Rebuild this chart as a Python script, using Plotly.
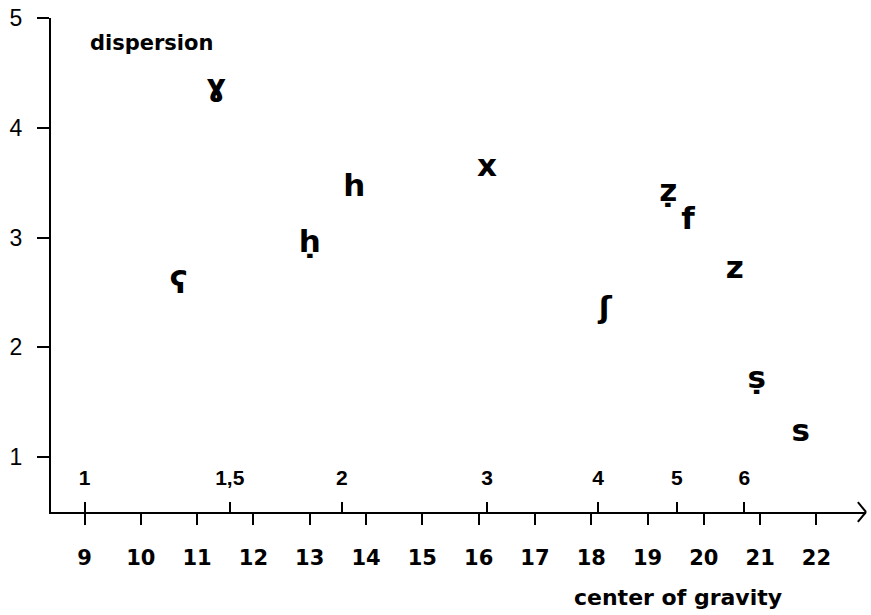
import plotly.graph_objects as go

# Data
symbols = ["ʕ", "ɣ", "ḥ", "h", "x", "ʃ", "ẓ", "f", "z", "ṣ", "s"]
center_of_gravity = [10.67, 11.34, 13.0, 13.79, 16.15, 18.25, 19.37, 19.72, 20.55, 20.94, 21.72]
dispersion = [2.57, 4.36, 2.94, 3.45, 3.63, 2.34, 3.40, 3.15, 2.70, 1.70, 1.22]

bark_ticks = list(range(9, 23))
khz_labels = ["1", "1,5", "2", "3", "4", "5", "6"]
khz_positions = [9.0, 11.58, 13.57, 16.15, 18.12, 19.52, 20.72]
y_ticks = [1, 2, 3, 4, 5]

fig = go.Figure()
fig.add_trace(go.Scatter(
    x=center_of_gravity, y=dispersion, mode="text", text=symbols,
    textposition="middle center",
    textfont=dict(family="DejaVu Sans", size=31, color="black", weight="bold"),
    showlegend=False, hoverinfo="skip"))
# invisible trace for the secondary (kHz) axis
fig.add_trace(go.Scatter(x=khz_positions, y=[None]*len(khz_positions), xaxis="x2",
                         mode="markers", showlegend=False, hoverinfo="skip"))

xr = [8.405, 22.88]
fig.update_layout(
    width=871, height=615,
    margin=dict(l=51, r=5, t=18, b=103),
    paper_bgcolor="white", plot_bgcolor="white",
    xaxis=dict(range=xr, tickvals=bark_ticks, ticktext=[str(v) for v in bark_ticks],
               ticks="outside", ticklen=11, tickwidth=2, tickcolor="black",
               showline=True, linecolor="black", linewidth=2, automargin=False,
               showgrid=False, zeroline=False, ticklabelstandoff=15,
               tickfont=dict(family="DejaVu Sans", size=21, color="black", weight="bold")),
    xaxis2=dict(range=xr, overlaying="x", anchor="y", side="bottom",
                tickvals=khz_positions, ticktext=khz_labels, automargin=False,
                ticks="inside", ticklen=10, tickwidth=2, tickcolor="black",
                ticklabelposition="inside", ticklabelstandoff=14,
                showline=False, showgrid=False, zeroline=False,
                tickfont=dict(family="Liberation Sans", size=21, color="black", weight="bold")),
    yaxis=dict(range=[0.5, 5], tickvals=y_ticks, ticktext=[str(v) for v in y_ticks],
               ticks="outside", ticklen=12, tickwidth=2, tickcolor="black",
               showline=True, linecolor="black", linewidth=2, automargin=False,
               showgrid=False, zeroline=False, ticklabelstandoff=10,
               tickfont=dict(family="Liberation Sans", size=23, color="black")),
    annotations=[
        dict(text="dispersion", xref="paper", yref="paper", x=0.045, y=0.95,
             xanchor="left", yanchor="middle", showarrow=False,
             font=dict(family="DejaVu Sans", size=21, color="black", weight="bold")),
        dict(text="center of gravity", xref="paper", yref="paper", x=0.769, y=-0.174,
             xanchor="center", yanchor="middle", showarrow=False,
             font=dict(family="DejaVu Sans", size=22, color="black", weight="bold")),
    ],
    shapes=[
        dict(type="line", xref="paper", yref="paper", x0=0.99, y0=0.02, x1=1.0, y1=0.0,
             line=dict(color="black", width=2)),
        dict(type="line", xref="paper", yref="paper", x0=0.99, y0=-0.02, x1=1.0, y1=0.0,
             line=dict(color="black", width=2)),
    ],
)

fig.write_html("out.html", config={"displayModeBar": False},
               post_script="document.body.style.margin='0';")
